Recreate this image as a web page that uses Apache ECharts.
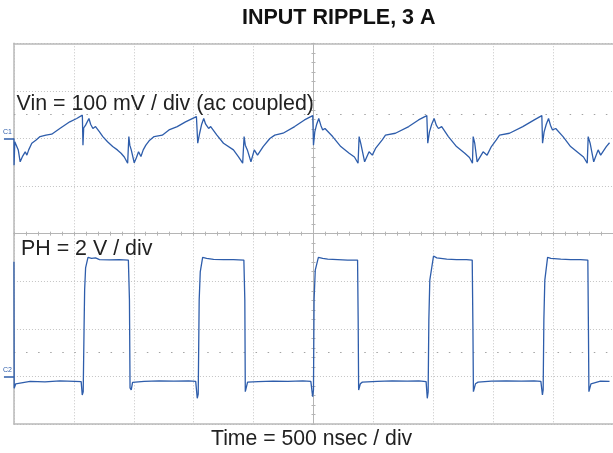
<!DOCTYPE html>
<html><head><meta charset="utf-8">
<script src="https://cdn.jsdelivr.net/npm/echarts@6/dist/echarts.min.js"></script>
<style>html,body{margin:0;padding:0;background:#fff}#c{width:613px;height:453px}</style>
</head><body><div id="c"></div>
<script>
// ---- texts ----
const titleText = 'INPUT RIPPLE, 3 A';
const vinLabel = 'Vin = 100 mV / div (ac coupled)';
const phLabel = 'PH = 2 V / div';
const timeLabel = 'Time = 500 nsec / div';
const ch1Name = 'C1';
const ch2Name = 'C2';

// ---- Vin trace (time in ns, value in mV, ac coupled) ----
const vinT = [0,1,7,19,36,52,73,94,108,123,
149,185,218,267,315,383,466,524,571,576,
582,598,626,640,659,681,714,742,781,824,
863,894,921,949,959,967,979,1004,1021,1040,
1060,1079,1101,1128,1170,1238,1294,1363,1432,1523,
1534,1550,1567,1584,1600,1625,1642,1694,1749,1832,
1873,1909,1921,1931,1948,1978,2006,2033,2080,2136,
2177,2246,2343,2425,2494,2500,2511,2527,2544,2561,
2577,2596,2660,2728,2798,2842,2872,2881,2896,2927,
2964,2991,3018,3074,3101,3184,3295,3377,3446,3454,
3468,3487,3507,3525,3543,3570,3626,3694,3763,3802,
3827,3833,3846,3866,3916,3949,3985,4026,4053,4136,
4247,4343,4406,4412,4425,4443,4462,4478,4495,4522,
4583,4646,4715,4754,4785,4793,4809,4839,4876,4897,
4944,4971];
const vinMv = [0,-56,-7,-5,-24,-49,-37,-28,-35,-24,
-10,-3,4,7,9,21,35,42,49,-14,
22,28,42,30,21,25,14,4,-7,-17,
-24,-31,-39,-52,4,-14,-24,-51,-41,-28,
-38,-24,-14,-5,4,7,18,25,35,46,
-10,11,30,42,30,21,25,7,-10,-24,
-38,-52,4,-14,-24,-49,-24,-35,-17,0,
7,11,25,39,48,-14,14,30,42,28,
18,21,4,-17,-31,-39,-52,4,-12,-49,
-28,-35,-21,-3,7,11,25,39,48,-10,
14,30,42,28,21,25,4,-17,-31,-40,
-52,4,-10,-49,-28,-35,-17,-3,7,11,
25,39,48,-10,14,30,42,28,18,21,
4,-17,-31,-39,-52,4,-10,-49,-24,-35,
-17,-9];

// ---- PH trace (time in ns, value in V) ----
const phT = [0,2,15,27,135,259,383,507,561,570,
578,585,590,598,618,648,681,714,797,880,
955,964,969,979,990,1087,1211,1335,1459,1517,
1530,1538,1546,1555,1575,1608,1666,1749,1832,1919,
1927,1931,1950,2039,2163,2287,2411,2478,2493,2500,
2505,2515,2541,2577,2619,2702,2785,2868,2873,2877,
2891,2908,3032,3157,3281,3380,3440,3450,3457,3463,
3471,3502,3529,3612,3694,3777,3825,3831,3835,3852,
3874,3985,4109,4234,4341,4398,4411,4417,4423,4431,
4454,4481,4564,4646,4729,4790,4795,4799,4816,4831,
4895,4971];
const phV = [4.82,-0.5,-0.31,-0.24,-0.21,-0.23,-0.19,-0.21,-0.22,-0.78,
-0.65,1.95,3.63,4.56,5.0,4.96,4.98,4.91,4.9,4.91,
4.89,3.21,-0.48,-0.57,-0.25,-0.21,-0.19,-0.2,-0.19,-0.21,
-0.92,-0.74,3.21,4.39,5.0,4.96,4.92,4.91,4.91,4.89,
3.21,-0.64,-0.24,-0.22,-0.2,-0.21,-0.19,-0.21,-0.85,-0.57,
3.21,4.47,5.0,4.96,4.93,4.91,4.89,4.89,2.37,-0.57,
-0.31,-0.24,-0.21,-0.19,-0.2,-0.19,-0.22,-0.92,-0.65,2.37,
4.05,5.06,4.98,4.93,4.91,4.91,4.89,1.95,-0.64,-0.31,
-0.24,-0.2,-0.19,-0.2,-0.19,-0.21,-0.78,-0.57,2.37,4.05,
5.0,4.96,4.93,4.91,4.91,4.89,1.95,-0.64,-0.31,-0.24,
-0.2,-0.21];

// ---- scope settings ----
const timeRange = [0, 5000], timeDiv = 500;      // 10 div x 500 ns
const vinRange = [-600, 200], vinDiv = 100;      // 8 div x 100 mV
const phRange = [-2, 14], phDiv = 2;             // 8 div x 2 V
const vinDotRow = 50;   // dotted reference row (mV)
const phDotRow = 1;     // dotted reference row (V)

const FONT = "'Liberation Sans', Arial, sans-serif";
const traceColor = '#2e5dab';
const gridColor = '#c4c4c4';
const borderColor = '#b9b9b9';
const centerColor = '#b5b5b5';

const zip = (a, b) => a.map((v, i) => [v, b[i]]);

const centerTickX = (inside) => ({
  type: 'value', min: timeRange[0], max: timeRange[1], interval: timeDiv, position: 'bottom',
  axisLine: { show: true, onZero: true, onZeroAxisIndex: 2, lineStyle: { color: centerColor, width: 1 } },
  axisTick: { show: true, inside: inside, length: 2, lineStyle: { color: centerColor } },
  minorTick: { show: true, splitNumber: 5, length: 2, lineStyle: { color: centerColor } },
  axisLabel: { show: false }, splitLine: { show: false }
});
const centerTickY = (inside) => ({
  type: 'value', min: -4, max: 4, interval: 1, position: 'left',
  axisLine: { show: true, onZero: true, onZeroAxisIndex: 4, lineStyle: { color: centerColor, width: 1 } },
  axisTick: { show: true, inside: inside, length: 2, lineStyle: { color: centerColor } },
  minorTick: { show: true, splitNumber: 5, length: 2, lineStyle: { color: centerColor } },
  axisLabel: { show: false }, splitLine: { show: false }
});
const markerY = (range, name) => ({
  type: 'value', min: range[0], max: range[1], position: 'left',
  axisLine: { show: false, onZero: false },
  axisTick: { show: true, customValues: [0], length: 10, lineStyle: { color: traceColor, width: 1.5 } },
  axisLabel: { show: true, customValues: [0], formatter: name, color: traceColor, fontSize: 7,
    fontFamily: FONT, margin: 2, verticalAlign: 'bottom', padding: [0, 0, 3, 0] },
  splitLine: { show: false }
});

const option = {
  animation: false,
  backgroundColor: '#ffffff',
  grid: { left: 13.7, right: -4.7, top: 43.3, bottom: 29, containLabel: false },
  xAxis: [
    { type: 'value', min: timeRange[0], max: timeRange[1], interval: timeDiv, position: 'bottom',
      axisLine: { show: true, onZero: false, lineStyle: { color: borderColor, width: 1.5 } },
      axisTick: { show: false }, axisLabel: { show: false },
      splitLine: { show: true, lineStyle: { color: gridColor, type: [1, 2], width: 1 } } },
    { type: 'value', min: timeRange[0], max: timeRange[1], position: 'top',
      axisLine: { show: true, onZero: false, lineStyle: { color: borderColor, width: 1.5 } },
      axisTick: { show: false }, axisLabel: { show: false }, splitLine: { show: false } },
    centerTickX(false),
    centerTickX(true),
    { type: 'value', min: -5, max: 5, show: false, axisLine: { onZero: false } }
  ],
  yAxis: [
    { type: 'value', min: vinRange[0], max: vinRange[1], interval: vinDiv, position: 'left',
      axisLine: { show: true, onZero: false, lineStyle: { color: borderColor, width: 1.5 } },
      axisTick: { show: false }, axisLabel: { show: false },
      splitLine: { show: true, lineStyle: { color: gridColor, type: [1, 2], width: 1 } } },
    { type: 'value', min: phRange[0], max: phRange[1], interval: phDiv, position: 'left', show: false,
      axisLine: { onZero: false } },
    { type: 'value', min: -4, max: 4, show: false, axisLine: { onZero: false } },
    centerTickY(false),
    centerTickY(true),
    markerY(vinRange, ch1Name),
    markerY(phRange, ch2Name)
  ],
  series: [
    { name: 'Vin', type: 'line', xAxisIndex: 0, yAxisIndex: 0, data: zip(vinT, vinMv),
      showSymbol: false, symbol: 'none', z: 5,
      lineStyle: { color: traceColor, width: 1.3 },
      markLine: { silent: true, symbol: 'none', label: { show: false }, animation: false,
        lineStyle: { color: '#a3a3a3', type: [1.5, 10.58], width: 1 },
        data: [{ yAxis: vinDotRow }] } },
    { name: 'PH', type: 'line', xAxisIndex: 0, yAxisIndex: 1, data: zip(phT, phV),
      showSymbol: false, symbol: 'none', z: 5,
      lineStyle: { color: traceColor, width: 1.3 },
      markLine: { silent: true, symbol: 'none', label: { show: false }, animation: false,
        lineStyle: { color: '#a3a3a3', type: [1.5, 10.58], width: 1 },
        data: [{ yAxis: phDotRow }] } }
  ],
  graphic: [
    { type: 'text', left: 242, top: 7, z: 10,
      style: { text: titleText, fontSize: 21.5, fontWeight: 'bold', fontFamily: FONT, fill: '#111' } },
    { type: 'text', left: 16.5, top: 94, z: 10,
      style: { text: vinLabel, fontSize: 21.4, fontFamily: FONT, fill: '#222' } },
    { type: 'text', left: 21, top: 239, z: 10,
      style: { text: phLabel, fontSize: 21.4, fontFamily: FONT, fill: '#222' } },
    { type: 'text', left: 211, top: 429, z: 10,
      style: { text: timeLabel, fontSize: 21.2, fontFamily: FONT, fill: '#222' } }
  ]
};

const chart = echarts.init(document.getElementById('c'), null, { renderer: 'canvas' });
chart.setOption(option);
</script>
</body></html>
